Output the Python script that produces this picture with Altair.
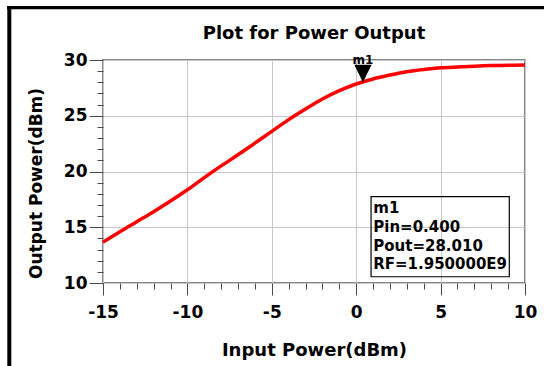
import altair as alt
import pandas as pd

# ---- data ----
pin = [-15, -14, -13, -12, -11, -10, -9, -8, -7, -6, -5, -4, -3, -2, -1,
       0, 1, 2, 3, 4, 5, 6, 7, 8, 9, 10]
pout = [13.66, 14.6, 15.5, 16.4, 17.35, 18.36, 19.45, 20.5, 21.5, 22.55,
        23.6, 24.65, 25.6, 26.5, 27.25, 27.85, 28.3, 28.65, 28.95, 29.15,
        29.3, 29.38, 29.45, 29.5, 29.52, 29.55]

marker_name = ["m1"]
marker_pin = [0.400]
marker_pout = [28.010]
marker_lines = ["m1", "Pin=0.400", "Pout=28.010", "RF=1.950000E9"]

chart_title = ["Plot for Power Output"]
x_title = "Input Power(dBm)"
y_title = "Output Power(dBm)"

x_ticks = list(range(-15, 11))
y_ticks = list(range(10, 31))

# info box extent in data units
box_x = [0.88]
box_x2 = [9.07]
box_y = [10.56]
box_y2 = [17.74]
text_x = [1.01]
text_y = [16.25]

FONT = "DejaVu Sans"
W, H = 422, 223

df = pd.DataFrame({"pin": pin, "pout": pout})
mk = pd.DataFrame({"pin": marker_pin, "pout": marker_pout, "name": marker_name})
box = pd.DataFrame({"x": box_x, "x2": box_x2, "y": box_y, "y2": box_y2})
txt = pd.DataFrame({"x": text_x, "y": text_y})
one = pd.DataFrame({"t": chart_title})

major5 = "datum.value % 5 === 0"

xscale = alt.Scale(domain=[-15, 10], nice=False, zero=False)
yscale = alt.Scale(domain=[10, 30], nice=False, zero=False)

xaxis = alt.Axis(
    values=x_ticks, tickCount=len(x_ticks),
    labelExpr="datum.value % 5 === 0 ? '' + datum.value : ''",
    labelFont=FONT, labelFontWeight="bold", labelFontSize=17, labelColor="black",
    labelPadding=9, labelFlush=False, labelOverlap=False,
    tickSize={"condition": {"test": major5, "value": 12}, "value": 6},
    tickColor="#4a4a4a", tickWidth=1,
    grid=True, gridColor="#c8c8c8", gridWidth=1,
    gridOpacity={"condition": {"test": major5, "value": 1}, "value": 0},
    domain=False,
    title=x_title, titleFont=FONT, titleFontWeight="bold",
    titleFontSize=18, titleColor="black",
    titleX=W / 2, titleY=67, titleBaseline="middle", titleAlign="center",
)
yaxis = alt.Axis(
    values=y_ticks, tickCount=len(y_ticks),
    labelExpr="datum.value % 5 === 0 ? '' + datum.value : ''",
    labelFont=FONT, labelFontWeight="bold", labelFontSize=17, labelColor="black",
    labelPadding=2, labelFlush=False, labelOverlap=False,
    tickSize={"condition": {"test": major5, "value": 14}, "value": 6},
    tickColor="#4a4a4a", tickWidth=1,
    grid=True, gridColor="#c8c8c8", gridWidth=1,
    gridOpacity={"condition": {"test": major5, "value": 1}, "value": 0},
    domain=False,
    title=y_title, titleFont=FONT, titleFontWeight="bold",
    titleFontSize=17, titleColor="black", titleAngle=270,
    titleX=-67, titleY=123, titleBaseline="middle", titleAlign="center",
)

line = alt.Chart(df).mark_line(color="#ff0000", strokeWidth=3.5, interpolate="monotone").encode(
    x=alt.X("pin:Q", scale=xscale, axis=xaxis),
    y=alt.Y("pout:Q", scale=yscale, axis=yaxis),
)

tri = alt.Chart(mk).mark_point(
    shape="M-1,-2L1,-2L0,0Z", filled=True, fill="black", opacity=1, size=300, strokeWidth=0
).encode(x="pin:Q", y="pout:Q")

tri_label = alt.Chart(mk).mark_text(
    font=FONT, fontWeight="bold", fontSize=12, color="black",
    baseline="alphabetic", align="center", dy=-18
).encode(x="pin:Q", y="pout:Q", text="name:N")

info_box = alt.Chart(box).mark_rect(
    fillOpacity=0, stroke="black", strokeWidth=1.2
).encode(x="x:Q", x2="x2:Q", y="y:Q", y2="y2:Q")

info_text = alt.Chart(txt).mark_text(
    font=FONT, fontWeight="bold", fontSize=15, color="black",
    align="left", baseline="alphabetic", lineHeight=18.6
).encode(x="x:Q", y="y:Q", text=alt.value(marker_lines))

title_mark = alt.Chart(one).mark_text(
    font=FONT, fontWeight="bold", fontSize=18, color="black",
    align="center", baseline="alphabetic"
).encode(x=alt.value(W / 2), y=alt.value(-21), text="t:N")

# outer black frame (top and left edges visible in the reference)
frame_top = alt.Chart(one).mark_rule(color="black", strokeWidth=3.3).encode(
    x=alt.value(-96), x2=alt.value(460), y=alt.value(-52.3)
)
frame_left = alt.Chart(one).mark_rule(color="black", strokeWidth=4).encode(
    x=alt.value(-93.7), y=alt.value(-54), y2=alt.value(320)
)

chart = alt.layer(
    line, info_box, info_text, tri, tri_label, title_mark, frame_top, frame_left
).properties(
    width=W, height=H,
    autosize=alt.AutoSizeParams(type="none"),
    padding={"left": 103, "top": 60, "right": 19, "bottom": 83},
    background="white",
).configure_view(
    stroke="#606060", strokeWidth=1.5
)

chart.save("out.html", embed_options={"renderer": "svg", "actions": False})
